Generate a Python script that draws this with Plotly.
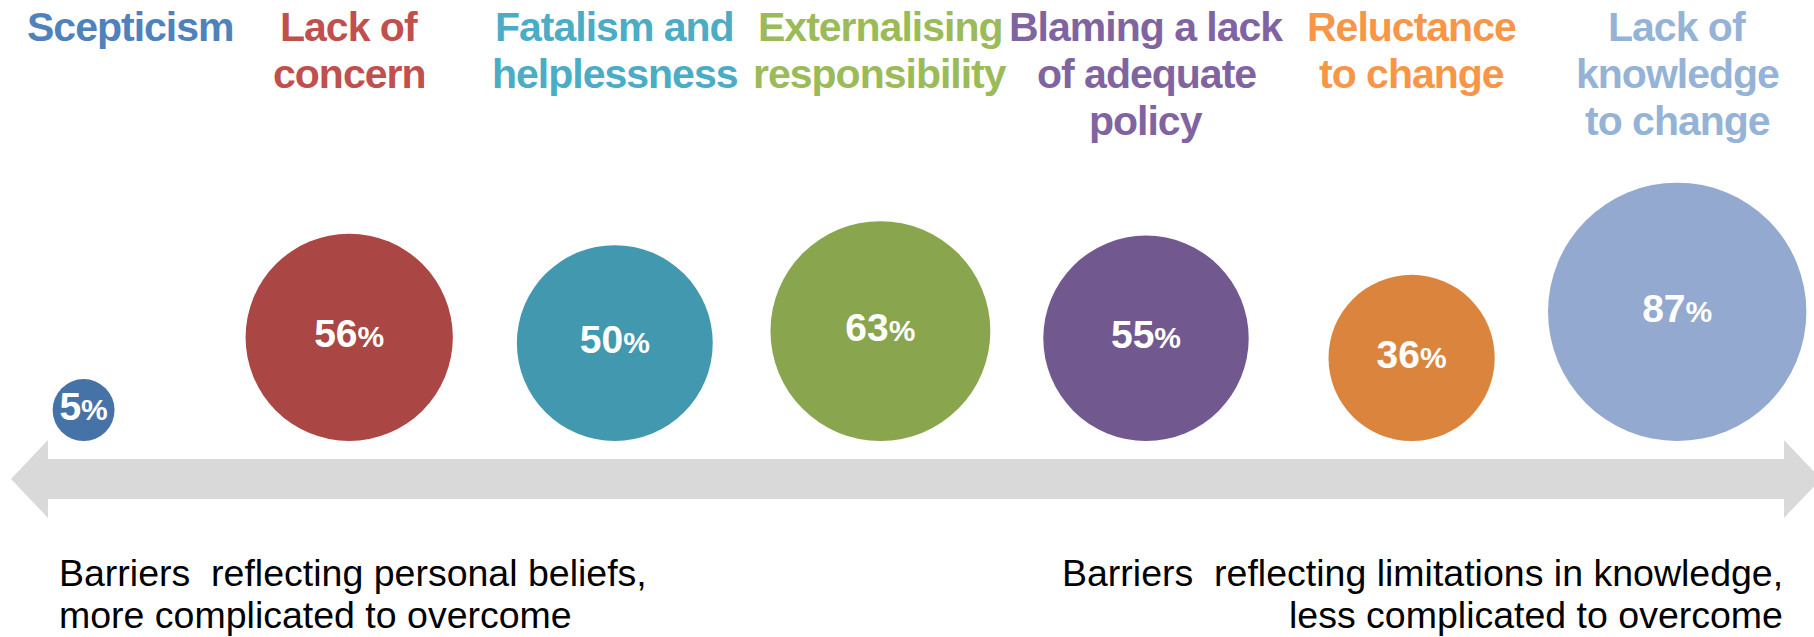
import numpy as np
import plotly.graph_objects as go

# ---------------- data ----------------
categories = [
    "Scepticism",
    "Lack of<br>concern",
    "Fatalism and<br>helplessness",
    "Externalising<br>responsibility",
    "Blaming a lack<br>of adequate<br>policy",
    "Reluctance<br>to change",
    "Lack of<br>knowledge<br>to change",
]
values = [5, 56, 50, 63, 55, 36, 87]
bubble_colors = ["#4572A7", "#AA4643", "#4198AF", "#89A54E", "#71588F", "#DB843D", "#93A9CF"]
label_colors = ["#4F81BD", "#C0504D", "#4BACC6", "#9BBB59", "#8064A2", "#F79646", "#95B3D7"]
left_note = ["Barriers\u00a0 reflecting personal beliefs,", "more complicated to overcome"]
right_note = ["Barriers\u00a0 reflecting limitations in knowledge,", "less complicated to overcome"]

# ---------------- layout constants ----------------
W, H = 1814, 637
FONT = "Liberation Sans, Arial, sans-serif"
K = 13.85          # bubble radius (px) per sqrt(percent)
BASE = 441         # pixel row where all bubbles sit
X0, DX = 83.6, 265.6   # pixel position of first category and spacing

xs = list(range(len(values)))
radii = K * np.sqrt(np.array(values, dtype=float))
ys = BASE - radii

fig = go.Figure()

# arrow (decoration)
def px(x):
    return x / W

arrow_pts = [(11, 479), (48, 440), (48, 459), (1784, 459), (1784, 440), (1821, 479),
             (1784, 518), (1784, 499), (48, 499), (48, 518)]
path = "M " + " L ".join(f"{px(x):.5f},{y}" for x, y in arrow_pts) + " Z"
fig.add_shape(type="path", path=path, xref="paper", yref="y",
              fillcolor="#D9D9D9", line=dict(width=0), layer="below")

fig.add_trace(go.Scatter(
    x=xs, y=ys,
    mode="markers+text",
    marker=dict(size=values, sizemode="area", sizeref=1 / (2 * K ** 2),
                color=bubble_colors, line=dict(width=0), opacity=1),
    text=[f"{v}<span style='font-size:30px'>%</span>" for v in values],
    textposition="middle center",
    textfont=dict(family=FONT, size=39, color="white", weight="bold"),
    hoverinfo="skip",
    cliponaxis=False,
))

annotations = []
for i, (cat, col) in enumerate(zip(categories, label_colors)):
    for j, line in enumerate(cat.split("<br>")):
        annotations.append(dict(
            x=i, xref="x", y=27 + 47 * j, yref="y",
            text=f"<span style='letter-spacing:-1px'>{line}</span>",
            showarrow=False,
            xanchor="center", yanchor="middle",
            xshift=47 if i == 0 else 0,
            font=dict(family=FONT, size=41, color=col, weight="bold"),
        ))

for j, line in enumerate(left_note):
    annotations.append(dict(
        x=57 / W, xref="paper", y=573 + 42 * j, yref="y",
        text=line, showarrow=False, xanchor="left", yanchor="middle",
        font=dict(family=FONT, size=37.5, color="black"),
    ))
for j, line in enumerate(right_note):
    annotations.append(dict(
        x=1785 / W, xref="paper", y=573 + 42 * j, yref="y",
        text=line, showarrow=False, xanchor="right", yanchor="middle",
        font=dict(family=FONT, size=37.5, color="black"),
    ))

fig.update_layout(
    width=W, height=H,
    margin=dict(l=0, r=0, t=0, b=0, pad=0),
    paper_bgcolor="white", plot_bgcolor="white",
    showlegend=False,
    xaxis=dict(range=[-X0 / DX, (W - X0) / DX], visible=False, fixedrange=True),
    yaxis=dict(range=[H, 0], visible=False, fixedrange=True),
    annotations=annotations,
)

fig.write_html("out.html", config={"displayModeBar": False})
